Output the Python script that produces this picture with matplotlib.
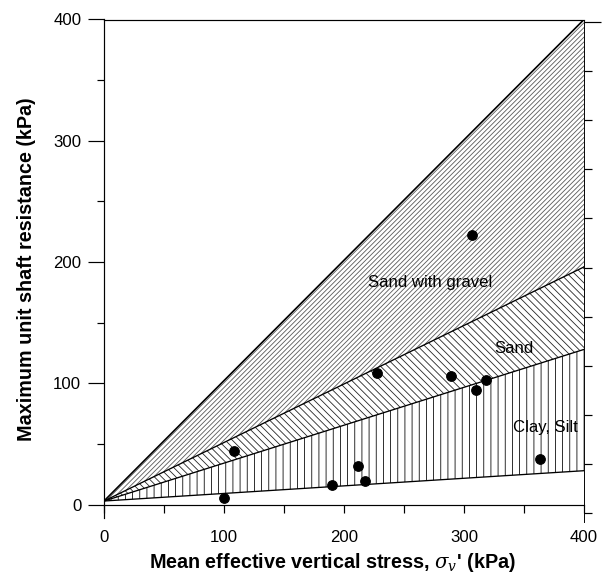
import matplotlib
matplotlib.use("Agg")
import matplotlib.pyplot as plt
import numpy as np

plt.rcParams['font.family'] = ['Liberation Sans', 'DejaVu Sans']
plt.rcParams['mathtext.fontset'] = 'dejavuserif'
plt.rcParams['hatch.linewidth'] = 0.7

# zone boundaries: straight lines from near the origin to x = 400
x_ends = [0, 400]
y_start = 3
top_end = 400      # upper limit, sand with gravel
gravel_sand = 196  # sand with gravel / sand
sand_clay = 128    # sand / clay, silt
bottom_end = 28    # lower limit, clay, silt

# measured points
stress = [100, 108.6, 189.8, 212, 217.5, 227.5, 289, 306.7, 310, 318.3, 363.6]
shaft = [5.5, 44, 15.9, 31.6, 19.8, 108.6, 105.8, 222.4, 94.8, 102.5, 37.7]

zone_names = ["Sand with gravel", "Sand", "Clay, Silt"]
zone_label_x = [220, 325, 341]
zone_label_y = [183, 129, 64]

x_ticks = [0, 50, 100, 150, 200, 250, 300, 350, 400]
x_ticklabels = ["0", "", "100", "", "200", "", "300", "", "400"]
y_major = [0, 100, 200, 300, 400]
y_minor = [50, 150, 250, 350]
right_ticks = list(range(11))

dpi = 86
fig = plt.figure(figsize=(602 / dpi, 575 / dpi), dpi=dpi)
ax = fig.add_axes([104 / 602, 57 / 575, 480 / 602, 498.5 / 575])

def line(y_end):
    return [y_start, y_end]

ax.fill_between(x_ends, line(gravel_sand), line(top_end), facecolor="none",
                edgecolor="0.35", hatch="//////", linewidth=0)
ax.fill_between(x_ends, line(sand_clay), line(gravel_sand), facecolor="none",
                edgecolor="0.15", hatch="\\\\\\\\", linewidth=0)
ax.fill_between(x_ends, line(bottom_end), line(sand_clay), facecolor="none",
                edgecolor="0.05", hatch="||", linewidth=0)

ax.plot(x_ends, line(top_end), color="black", lw=1.4)
for ye in [gravel_sand, sand_clay, bottom_end]:
    ax.plot(x_ends, line(ye), color="black", lw=1.1)

ax.plot(stress, shaft, "o", color="black", markersize=8, clip_on=False)

for name, tx, ty in zip(zone_names, zone_label_x, zone_label_y):
    ax.text(tx, ty, name, fontsize=14, va="center", ha="left")

ax.set_xlim(0, 400)
ax.set_ylim(-11, 400)
ax.spines["bottom"].set_position(("data", 0))
ax.spines["right"].set_visible(False)
for s in ax.spines.values():
    s.set_linewidth(1.0)

ax.set_xticks(x_ticks)
ax.set_xticklabels(x_ticklabels)
ax.tick_params(axis="x", direction="out", length=7, width=1, pad=14, labelsize=14)
ax.set_yticks(y_major)
ax.set_yticks(y_minor, minor=True)
ax.tick_params(axis="y", which="major", direction="out", length=13, width=1, pad=6, labelsize=14)
ax.tick_params(axis="y", which="minor", direction="out", length=6, width=1)

ax.set_xlabel(r"Mean effective vertical stress, $\sigma_v$' (kPa)", fontsize=16.5,
              fontweight="bold")
ax.xaxis.set_label_coords(0.475, -0.066)
ax.set_ylabel("Maximum unit shaft resistance (kPa)", fontsize=16.5, fontweight="bold",
              labelpad=14)

# separate right-hand scale without labels
axr = fig.add_axes([584 / 602, 53 / 575, 0.0001, 502 / 575])
axr.patch.set_visible(False)
for k in ["left", "top", "bottom"]:
    axr.spines[k].set_visible(False)
axr.set_ylim(-0.18, 10.04)
axr.set_xticks([])
axr.yaxis.tick_right()
axr.set_yticks(right_ticks)
axr.set_yticklabels([])
axr.tick_params(axis="y", direction="out", length=7, width=1)
axr.yaxis.get_major_ticks()[-1].tick2line.set_markersize(14)

fig.savefig("out.png", dpi=dpi)
